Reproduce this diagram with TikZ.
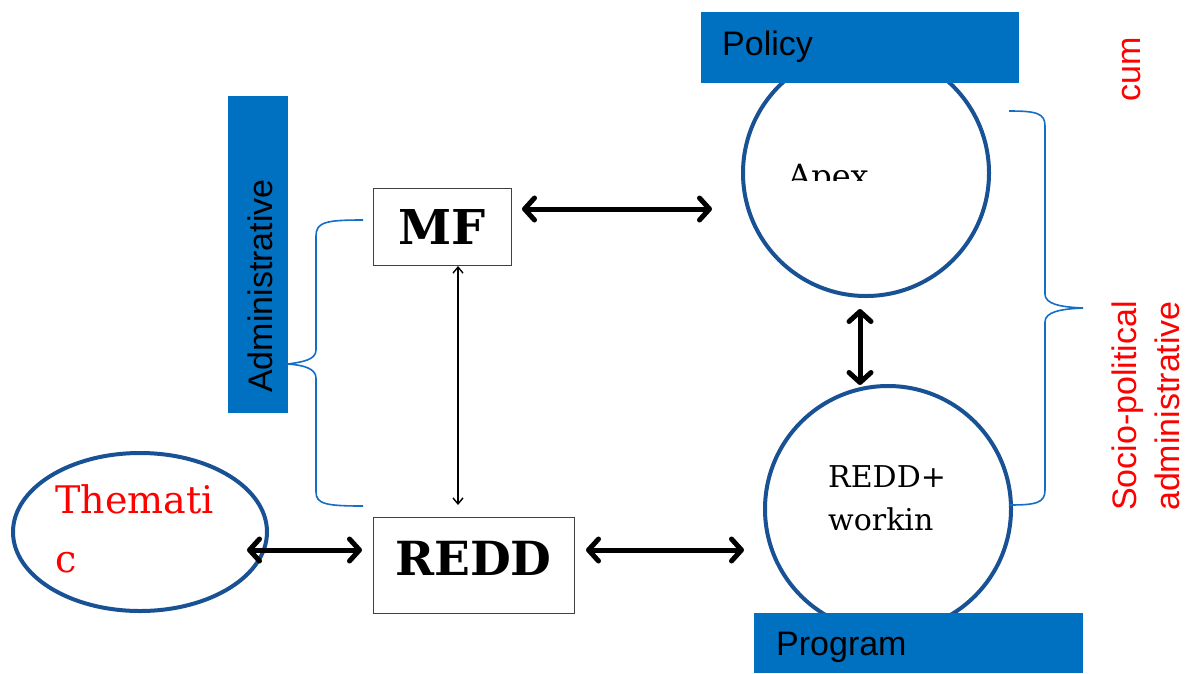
\documentclass[tikz,border=0pt]{standalone}
\usepackage{fontspec}
\setmainfont{Liberation Sans}
\newfontfamily\slab{DejaVu Serif}
\usetikzlibrary{arrows.meta,shapes.geometric}
\definecolor{boxblue}{RGB}{0,112,192}
\definecolor{ringblue}{RGB}{24,82,148}
\definecolor{braceblue}{RGB}{20,110,200}
\definecolor{txtred}{RGB}{255,0,0}
\tikzset{
  ring/.style={circle,draw=ringblue,line width=4pt,minimum size=246pt,inner sep=0pt},
  bluebar/.style={fill=boxblue,draw=none,inner sep=0pt},
  plainbox/.style={draw=black!75,line width=1pt,inner sep=0pt},
  bigarrow/.style={line width=5pt,{Straight Barb[length=10pt,width=22pt,round]}-{Straight Barb[length=10pt,width=22pt,round]}},
  thinarrow/.style={line width=1.4pt,{Straight Barb[length=6pt,width=10pt]}-{Straight Barb[length=6pt,width=10pt]}},
  bracepath/.style={draw=braceblue,line width=1.6pt},
  lbl/.style={inner sep=0pt,anchor=base west},
  sidelbl/.style={inner sep=0pt,anchor=base west,rotate=90,text depth=0pt,font=\fontsize{34}{40}\selectfont},
}
\begin{document}
\begin{tikzpicture}[x=1pt,y=-1pt]
\useasboundingbox[fill=white] (0,0) rectangle (1188,673);

% circles / ellipse
\node[ring] (apex) at (866,173) {};
\node[ring] (redd+) at (888,509) {};
\node[ellipse,draw=ringblue,line width=4pt,minimum width=254pt,minimum height=158pt,inner sep=0pt] (them) at (140,532) {};

% blue bars
\node[bluebar,minimum width=318pt,minimum height=71pt] (policy) at (860,47.5) {};
\node[bluebar,minimum width=329pt,minimum height=60pt] (program) at (918.5,643) {};
\node[bluebar,minimum width=60pt,minimum height=317pt] (admin) at (258,254.5) {};

% boxes
\node[plainbox,minimum width=138pt,minimum height=77pt,font=\slab\bfseries\fontsize{48}{50}\selectfont] (mf) at (442,226.5) {MF};
\node[plainbox,minimum width=201pt,minimum height=96pt,text depth=14pt,font=\slab\bfseries\fontsize{47}{50}\selectfont] (redd) at (473.5,565) {REDD};

% labels
\node[lbl,font=\fontsize{34}{40}\selectfont] (policyT) at (722,55) {Policy};
\node[lbl,font=\fontsize{34}{40}\selectfont] (programT) at (776,655) {Program};
\node[sidelbl] (adminT) at (272,393) {Administrative};
\node[sidelbl,text=txtred] (cumT) at (1140,102) {cum};
\node[sidelbl,text=txtred] (socioT) at (1136,511) {Socio-political};
\node[sidelbl,text=txtred] (adminT2) at (1179,511) {administrative};
\node[lbl,text=txtred,font=\slab\fontsize{38}{40}\selectfont] (themT) at (55,513) {Themati};
\node[lbl,text=txtred,font=\slab\fontsize{38}{40}\selectfont] (themT2) at (55,572) {c};
\node[lbl,font=\slab\fontsize{30}{36}\selectfont] (reddpT) at (828,487) {REDD+};
\node[lbl,font=\slab\fontsize{30}{36}\selectfont] (workT) at (828,530) {workin};
\begin{scope}
\clip (700,100) rectangle (1000,180);
\node[lbl,font=\slab\fontsize{32}{40}\selectfont] (apexT) at (788,187) {Apex};
\end{scope}

% arrow end points
\coordinate (mfE) at (522,209);
\coordinate (apexW) at (712,209);
\coordinate (apexS) at (860,309);
\coordinate (reddpN) at (860,385);
\coordinate (themE) at (247,550);
\coordinate (reddW) at (362,550);
\coordinate (reddE) at (586,550);
\coordinate (reddpW) at (744,550);
\coordinate (mfS) at (458,266);
\coordinate (reddN) at (458,505);

\draw[bigarrow] (mfE) -- (apexW);
\draw[bigarrow] (apexS) -- (reddpN);
\draw[bigarrow] (themE) -- (reddW);
\draw[bigarrow] (reddE) -- (reddpW);
\draw[thinarrow] (mfS) -- (reddN);

% braces
\draw[bracepath] (363,220) .. controls (326,220) and (316,222) .. (316,236) -- (316,350)
  .. controls (316,360) and (302,362) .. (288,364)
  .. controls (302,365) and (316,368) .. (316,378) -- (316,492)
  .. controls (316,504) and (326,506) .. (363,506);
\draw[bracepath] (1009,111) .. controls (1036,111) and (1045,113) .. (1045,126) -- (1045,294)
  .. controls (1045,304) and (1060,307) .. (1083,308)
  .. controls (1060,309) and (1045,312) .. (1045,322) -- (1045,490)
  .. controls (1045,503) and (1036,505) .. (1009,505);
\end{tikzpicture}
\end{document}
